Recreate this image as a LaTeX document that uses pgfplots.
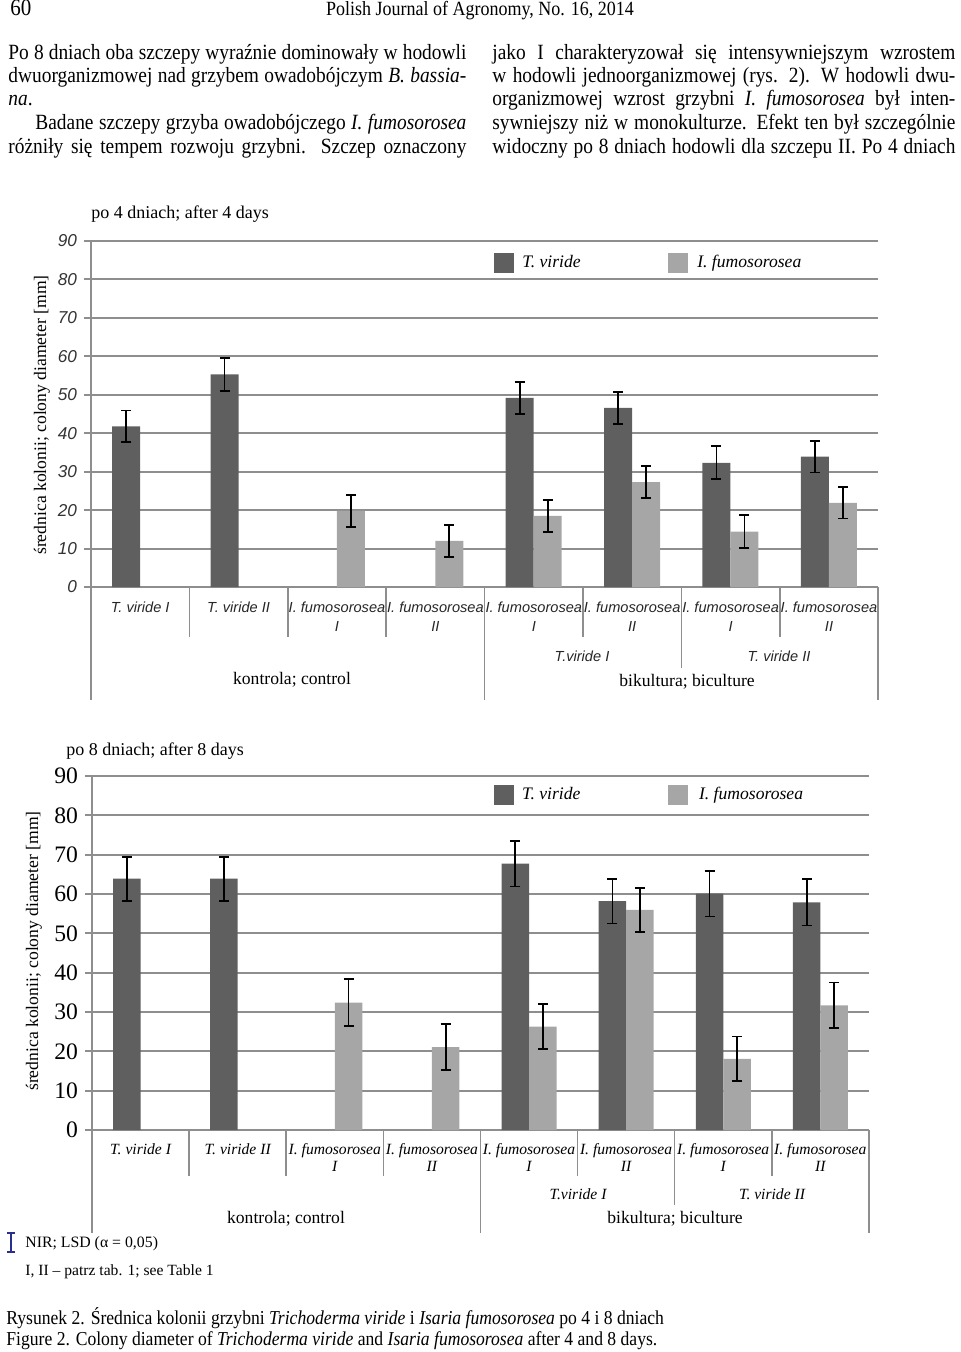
\documentclass[border=0pt]{standalone}
\usepackage{fontspec}
\setmainfont{Liberation Serif}
\setsansfont{Liberation Sans}
\usepackage{graphicx}
\usepackage{pgfplots}
\usepackage{pgfplotstable}
\pgfplotsset{compat=1.18}

\definecolor{darkbar}{HTML}{5F5F5F}
\definecolor{lightbar}{HTML}{A6A6A6}
\definecolor{gridgray}{HTML}{8E8E8E}
\definecolor{lsdblue}{HTML}{2B2F8C}

\newcommand\fs[2]{\fontsize{#1pt}{#2pt}\selectfont}
\newcommand\tall[1]{\scalebox{1}[1.12]{#1}}

% po 4 dniach: x = kategoria, y = srednica, e = NIR/2
\pgfplotstableread{
x y e
1 41.8 4.1
2 55.3 4.3
5 49.2 4.2
6 46.6 4.2
7 32.3 4.3
8 33.9 4.1
}\tvfour
\pgfplotstableread{
x y e
3 19.8 4.2
4 12.0 4.2
5 18.5 4.2
6 27.3 4.1
7 14.4 4.3
8 21.9 4.1
}\iffour
% po 8 dniach
\pgfplotstableread{
x y e
1 63.9 5.6
2 63.9 5.6
5 67.7 5.8
6 58.2 5.7
7 60.1 5.8
8 57.9 5.9
}\tveight
\pgfplotstableread{
x y e
3 32.4 5.9
4 21.1 5.8
5 26.3 5.8
6 56.0 5.6
7 18.1 5.7
8 31.7 5.8
}\ifeight

\pgfplotsset{
  barchart/.style={
    scale only axis, anchor=south west,
    xmin=0.5, xmax=8.5, ymin=0, ymax=90,
    ybar=0pt,
    axis line style={draw=none},
    xtick=\empty, ytick={0,10,...,90},
    ymajorgrids, grid style={gridgray, line width=1pt},
    major tick length=3.5pt, tick align=outside, ytick pos=left,
    tick style={gridgray, line width=1pt},
    /pgf/number format/assume math mode=true,
    clip=false,
    legend columns=2,
    legend style={draw=none, fill=none, inner sep=0pt, anchor=west,
      cells={anchor=west}, nodes={inner sep=0pt},
      font=\itshape\fs{8.8}{10}},
    legend image code/.code={\fill[##1] (0pt,-5pt) rectangle (10pt,5pt);},
  },
  errs/.style={
    error bars/.cd, y dir=both, y explicit,
    error bar style={black, line width=0.9pt},
    error mark options={rotate=90, mark size=2.5pt, black, line width=0.9pt},
  },
}

\begin{document}
\begin{tikzpicture}
\begin{scope}[x=0.5pt,y=-0.5pt]
\useasboundingbox (0,0) rectangle (960,1352);
\coordinate (o1) at (91,587);
\coordinate (o2) at (92,1130);

% naglowek strony
\node[anchor=base west, inner sep=0] at (10,16) {\fs{10.5}{12}\tall{60}};
\node[anchor=base, inner sep=0] at (480,16) {\fs{9}{11}\tall{Polish Journal of Agronomy, No. 16, 2014}};

% tekst w dwoch kolumnach
\begin{scope}[every node/.style={anchor=base west, inner sep=0, font=\fs{9.7}{12}}]
\node at (8,60) {\tall{\makebox[229pt][s]{Po 8 dniach oba szczepy wyraźnie dominowały w hodowli}}};
\node at (8,83) {\tall{\makebox[229pt][s]{dwuorganizmowej nad grzybem owadobójczym \textit{B. bassia-}}}};
\node at (8,106) {\tall{\textit{na}.}};
\node at (35,130) {\tall{\makebox[215.5pt][s]{Badane szczepy grzyba owadobójczego \textit{I. fumosorosea}}}};
\node at (8,154) {\tall{\makebox[229pt][s]{różniły się tempem rozwoju grzybni. Szczep oznaczony}}};
\node at (492,60) {\tall{\makebox[231.5pt][s]{jako I charakteryzował się intensywniejszym wzrostem}}};
\node at (492,83) {\tall{\makebox[231.5pt][s]{w hodowli jednoorganizmowej (rys. 2). W hodowli dwu-}}};
\node at (492,106) {\tall{\makebox[231.5pt][s]{organizmowej wzrost grzybni \textit{I. fumosorosea} był inten-}}};
\node at (492,130) {\tall{\makebox[231.5pt][s]{sywniejszy niż w monokulturze. Efekt ten był szczególnie}}};
\node at (492,154) {\tall{\makebox[231.5pt][s]{widoczny po 8 dniach hodowli dla szczepu II. Po 4 dniach}}};
\end{scope}

% tytuly, osie y
\node[anchor=base west, inner sep=0] at (91,219) {\fs{9}{11}po 4 dniach; after 4 days};
\node[anchor=base west, inner sep=0] at (66,755) {\fs{9}{11}po 8 dniach; after 8 days};
\node[rotate=90, inner sep=0] at (42,415) {\fs{8.8}{10}średnica kolonii; colony diameter [mm]};
\node[rotate=90, inner sep=0] at (34,951) {\fs{8.8}{10}średnica kolonii; colony diameter [mm]};

% podpisy kategorii - wykres 1
\begin{scope}[every node/.style={anchor=base, inner sep=0, font=\sffamily\itshape\fs{7.3}{9}, text=black!85}]
\node at (140.2,612) {T. viride I};
\node at (238.6,612) {T. viride II};
\foreach \x in {337,435.4,533.8,632.2,730.6,829} \node at (\x,612) {I. fumosorosea};
\foreach \x in {337,533.8,730.6} \node at (\x,631) {I};
\foreach \x in {435.4,632.2,829} \node at (\x,631) {II};
\node at (582,661) {T.viride I};
\node at (779,661) {T. viride II};
\end{scope}
\node[anchor=base, inner sep=0] at (292,684) {\fs{8.8}{10}kontrola; control};
\node[anchor=base, inner sep=0] at (687,686) {\fs{8.8}{10}bikultura; biculture};

% podpisy kategorii - wykres 2
\begin{scope}[every node/.style={anchor=base, inner sep=0, font=\itshape\fs{7.8}{9}}]
\node at (140.6,1154) {T. viride I};
\node at (237.7,1154) {T. viride II};
\foreach \x in {334.8,431.9,529,626.1,723.2,820.3} \node at (\x,1154) {I. fumosorosea};
\foreach \x in {334.8,529,723.2} \node at (\x,1171) {I};
\foreach \x in {431.9,626.1,820.3} \node at (\x,1171) {II};
\node at (578,1199) {T.viride I};
\node at (772,1199) {T. viride II};
\end{scope}
\node[anchor=base, inner sep=0] at (286,1223) {\fs{8.8}{10}kontrola; control};
\node[anchor=base, inner sep=0] at (675,1223) {\fs{8.8}{10}bikultura; biculture};

% linie osi kategorii
\begin{scope}[draw=gridgray, line width=0.8pt]
\draw (91,241) -- (91,700);
\draw (484.6,587) -- (484.6,700);
\draw (878.2,587) -- (878.2,700);
\foreach \x in {189.4,287.8,386.2,583,779.8} \draw (\x,587) -- (\x,637);
\draw (681.4,587) -- (681.4,668);
\draw (92,776) -- (92,1233);
\draw (480.4,1130) -- (480.4,1233);
\draw (868.8,1130) -- (868.8,1233);
\foreach \x in {189.1,286.2,383.3,577.5,771.7} \draw (\x,1130) -- (\x,1176);
\draw (674.6,1130) -- (674.6,1205);
\end{scope}

% objasnienia
\draw[lsdblue, line width=0.8pt] (7,1233) -- (15,1233) (11,1233) -- (11,1252) (7,1252) -- (15,1252);
\node[anchor=base west, inner sep=0] at (25,1247) {\fs{7.9}{9}NIR; LSD (α = 0,05)};
\node[anchor=base west, inner sep=0] at (25,1275) {\fs{7.8}{9}I, II – patrz tab. 1; see Table 1};
\node[anchor=base west, inner sep=0] at (6,1324) {\fs{8.8}{10}\tall{Rysunek 2. Średnica kolonii grzybni \textit{Trichoderma viride} i \textit{Isaria fumosorosea} po 4 i 8 dniach}};
\node[anchor=base west, inner sep=0] at (6,1345) {\fs{8.8}{10}\tall{Figure 2. Colony diameter of \textit{Trichoderma viride} and \textit{Isaria fumosorosea} after 4 and 8 days.}};
\end{scope}

% wykres 1: po 4 dniach
\begin{axis}[barchart, at={(o1)}, width=393.5pt, height=173pt, bar width=14pt,
  yticklabel style={font=\sffamily\itshape\fs{8.6}{10}, text=black!80},
  legend style={at={(0.512,0.936)}}]
\addplot[fill=darkbar, draw=none, errs] table[x=x, y=y, y error=e] {\tvfour};
\addlegendentry{\hspace{4pt}\makebox[73pt][l]{T. viride}}
\addplot[fill=lightbar, draw=none, errs] table[x=x, y=y, y error=e] {\iffour};
\addlegendentry{\hspace{4.5pt}I. fumosorosea}
\end{axis}

% wykres 2: po 8 dniach
\begin{axis}[barchart, at={(o2)}, width=388.5pt, height=177pt, bar width=13.75pt,
  yticklabel style={font=\fs{11.8}{12}},
  legend style={at={(0.517,0.946)}}]
\addplot[fill=darkbar, draw=none, errs] table[x=x, y=y, y error=e] {\tveight};
\addlegendentry{\hspace{4pt}\makebox[73pt][l]{T. viride}}
\addplot[fill=lightbar, draw=none, errs] table[x=x, y=y, y error=e] {\ifeight};
\addlegendentry{\hspace{5.5pt}I. fumosorosea}
\end{axis}
\end{tikzpicture}
\end{document}
